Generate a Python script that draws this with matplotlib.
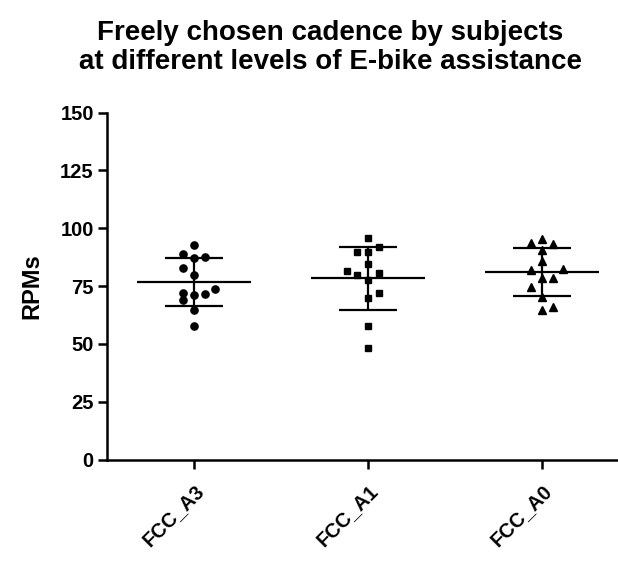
import numpy as np
import matplotlib
matplotlib.use("Agg")
import matplotlib.pyplot as plt

plt.rcParams['font.family'] = ['Liberation Sans', 'DejaVu Sans']
plt.rcParams['font.weight'] = 'bold'

groups = ['FCC_A3', 'FCC_A1', 'FCC_A0']

# values (RPM)
fcc_a3 = [92.7, 88.7, 87.3, 87.7, 82.9, 79.7, 73.9, 72.0, 71.7, 71.0, 68.9, 64.7, 57.9]
fcc_a1 = [95.7, 91.7, 89.7, 89.7, 84.7, 81.7, 79.7, 80.7, 77.6, 71.9, 69.9, 57.9, 48.1]
fcc_a0 = [95.4, 93.7, 93.0, 90.6, 85.8, 81.9, 82.6, 78.7, 78.7, 74.7, 70.4, 64.7, 65.8]

# scatter column of each point (beeswarm-like spread)
col_a3 = [0, -1, 0, 1, -1, 0, 2, -1, 1, 0, -1, 0, 0]
col_a1 = [0, 1, -1, 0, 0, -2, -1, 1, 0, 1, 0, 0, 0]
col_a0 = [0, -1, 1, 0, 0, -1, 2, 0, 1, -1, 0, 0, 1]

data = [fcc_a3, fcc_a1, fcc_a0]
cols = [col_a3, col_a1, col_a0]
markers = ['o', 's', '^']
msizes = [5.2, 4.6, 5.4]

fig = plt.figure(figsize=(6.18, 5.66), dpi=100)
ax = fig.add_axes([107 / 618, 106.5 / 566, 522 / 618, 346.8 / 566])

step = 0.0615
for i, (vals, c) in enumerate(zip(data, cols)):
    vals = np.array(vals)
    x = i + np.array(c) * step
    ax.plot(x, vals, linestyle='none', marker=markers[i], color='black',
            markersize=msizes[i], zorder=3)
    m = vals.mean()
    sd = vals.std(ddof=1)
    ax.hlines(m, i - 0.33, i + 0.33, color='black', lw=1.6, zorder=2)
    ax.hlines([m - sd, m + sd], i - 0.166, i + 0.166, color='black', lw=1.6, zorder=2)
    ax.vlines(i, m - sd, m + sd, color='black', lw=1.6, zorder=2)

ax.set_xlim(-0.5, 2.5)
ax.set_ylim(0, 150)
ax.set_yticks([0, 25, 50, 75, 100, 125, 150])
ax.set_xticks(range(3))
ax.set_xticklabels(groups, rotation=45, ha='right', rotation_mode='anchor')
ax.spines['top'].set_visible(False)
ax.spines['right'].set_visible(False)
for s in ['left', 'bottom']:
    ax.spines[s].set_linewidth(1.8)
ax.tick_params(axis='both', width=1.8, length=6.5, labelsize=14.5, pad=3)
ax.tick_params(axis='x', pad=9)
for lab in ax.get_xticklabels() + ax.get_yticklabels():
    lab.set_fontweight('bold')

ax.set_ylabel('RPMs', fontsize=17, fontweight='bold', labelpad=12)
fig.text(0.534, 0.916, 'Freely chosen cadence by subjects\nat different levels of E-bike assistance',
         ha='center', va='center', fontsize=20, fontweight='bold', linespacing=1.12)

fig.savefig('out.png', dpi=100)
